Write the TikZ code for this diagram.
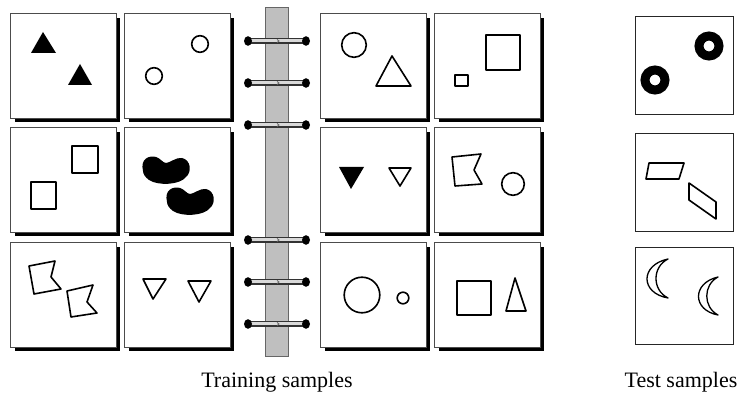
\documentclass[tikz,border=0pt]{standalone}
\usepackage{fontspec}
\setmainfont{Liberation Serif}
\begin{document}
\begin{tikzpicture}[x=1pt,y=-1pt,
  panel/.style={draw=black!70, line width=0.8pt, fill=white},
  shadowbox/.style={fill=black},
  outl/.style={draw=black, line width=1.6pt, line join=round},
  solidshape/.style={fill=black},
  testbox/.style={draw=black!85, line width=0.9pt, fill=white},
  lbl/.style={font=\fontsize{22}{26}\selectfont, inner sep=0pt, anchor=base}]
\useasboundingbox (0,0) rectangle (740,395);
\fill[white] (0,0) rectangle (740,395);
% spine
\draw[fill=black!25, draw=black!60, line width=0.8pt] (265,7) rectangle (288,356);
% rings
\foreach \y in {41,83,125,240,282,324} {
  \draw[line width=6.5pt, line cap=round, black!80] (248,\y) -- (306,\y);
  \draw[line width=3pt, black!15] (250,\y-0.3) -- (304,\y-0.3);
  \draw[black!60, line width=0.8pt] (277,\y-1.6) -- (279,\y) -- (277,\y+1.6);
  \fill (248,\y) ellipse (4 and 4.8);
  \fill (306,\y) ellipse (4 and 4.8);
}
% training panels
\foreach \x in {10,124,320,434} \foreach \y in {13,127,242} {
  \fill[shadowbox] (\x+5,\y+5) rectangle (\x+110,\y+109);
  \draw[panel] (\x,\y) rectangle (\x+106,\y+105);
}
% panel r1c1: filled triangles
\fill[solidshape] (43,32) -- (31,53) -- (56,53) -- cycle;
\fill[solidshape] (80,64) -- (68,85) -- (92,85) -- cycle;
% panel r1c2: circles
\draw[outl] (200,44) circle (8.3);
\draw[outl] (154,76) circle (8.3);
% panel r2c1: squares
\draw[outl] (72,146) rectangle (98,173);
\draw[outl] (31,182) rectangle (56,209);
% panel r2c2: beans
\foreach \dx/\dy in {0/0,24/31} {
  \fill[shift={(\dx,\dy)}] (143,171) .. controls (140,159) and (149,155) .. (156,157)
    .. controls (160,158) and (163,163) .. (166,163)
    .. controls (170,163) and (176,157) .. (182,158)
    .. controls (191,160) and (192,172) .. (186,177)
    .. controls (180,185) and (158,186) .. (149,180)
    .. controls (145,177) and (143,174) .. (143,171) -- cycle;
}
% panel r3c1: flags
\draw[outl] (29,266) -- (55,261) -- (51,277) -- (61,289) -- (34,294) -- cycle;
\draw[outl] (67,291) -- (93,285) -- (87,302) -- (97,313) -- (71,317) -- cycle;
% panel r3c2: outline down triangles
\draw[outl] (143,279) -- (166,279) -- (153,299) -- cycle;
\draw[outl] (188,281) -- (211,281) -- (199,302) -- cycle;
% panel r1c3: circle and triangle
\draw[outl] (354,45) circle (12.3);
\draw[outl] (392,56) -- (376,86) -- (411,86) -- cycle;
% panel r1c4: squares
\draw[outl] (486,35) rectangle (520,70);
\draw[outl] (455,75) rectangle (468,86);
% panel r2c3: down triangles
\fill[solidshape] (339,167) -- (364,167) -- (351,189) -- cycle;
\draw[outl] (389,168) -- (411,168) -- (400,186) -- cycle;
% panel r2c4: flag and circle
\draw[outl] (452,157) -- (481,154) -- (474,170) -- (482,184) -- (455,186) -- cycle;
\draw[outl] (513,184) circle (11.3);
% panel r3c3: circles
\draw[outl] (362,295) circle (17.8);
\draw[outl] (403,298) circle (5.8);
% panel r3c4: square and triangle
\draw[outl] (457,281) rectangle (491,315);
\draw[outl] (515,278) -- (506,311) -- (526,311) -- cycle;
% test panels
\draw[testbox] (635,16) rectangle (733,114);
\draw[testbox] (635,133) rectangle (733,231);
\draw[testbox] (635,247) rectangle (733,344);
% test 1: thick rings
\draw[line width=9pt] (709,46) circle (10);
\draw[line width=9pt] (655,80) circle (10);
% test 2: parallelograms
\draw[outl] (649,163) -- (684,163) -- (679,179) -- (646,179) -- cycle;
\draw[outl] (689,183) -- (716,202) -- (716,219) -- (689,200) -- cycle;
% test 3: crescents
\draw[line width=1.3pt, line join=round] (668,259) .. controls (640,265) and (640,293) .. (668,298)
  .. controls (652,290) and (652,267) .. (668,259) -- cycle;
\draw[line width=1.3pt, line join=round] (718,277) .. controls (692,283) and (692,310) .. (718,315)
  .. controls (703,307) and (703,285) .. (718,277) -- cycle;
% labels
\node[lbl] (train) at (277,388) {Training samples};
\node[lbl] (test) at (681,388) {Test samples};
\end{tikzpicture}
\end{document}
